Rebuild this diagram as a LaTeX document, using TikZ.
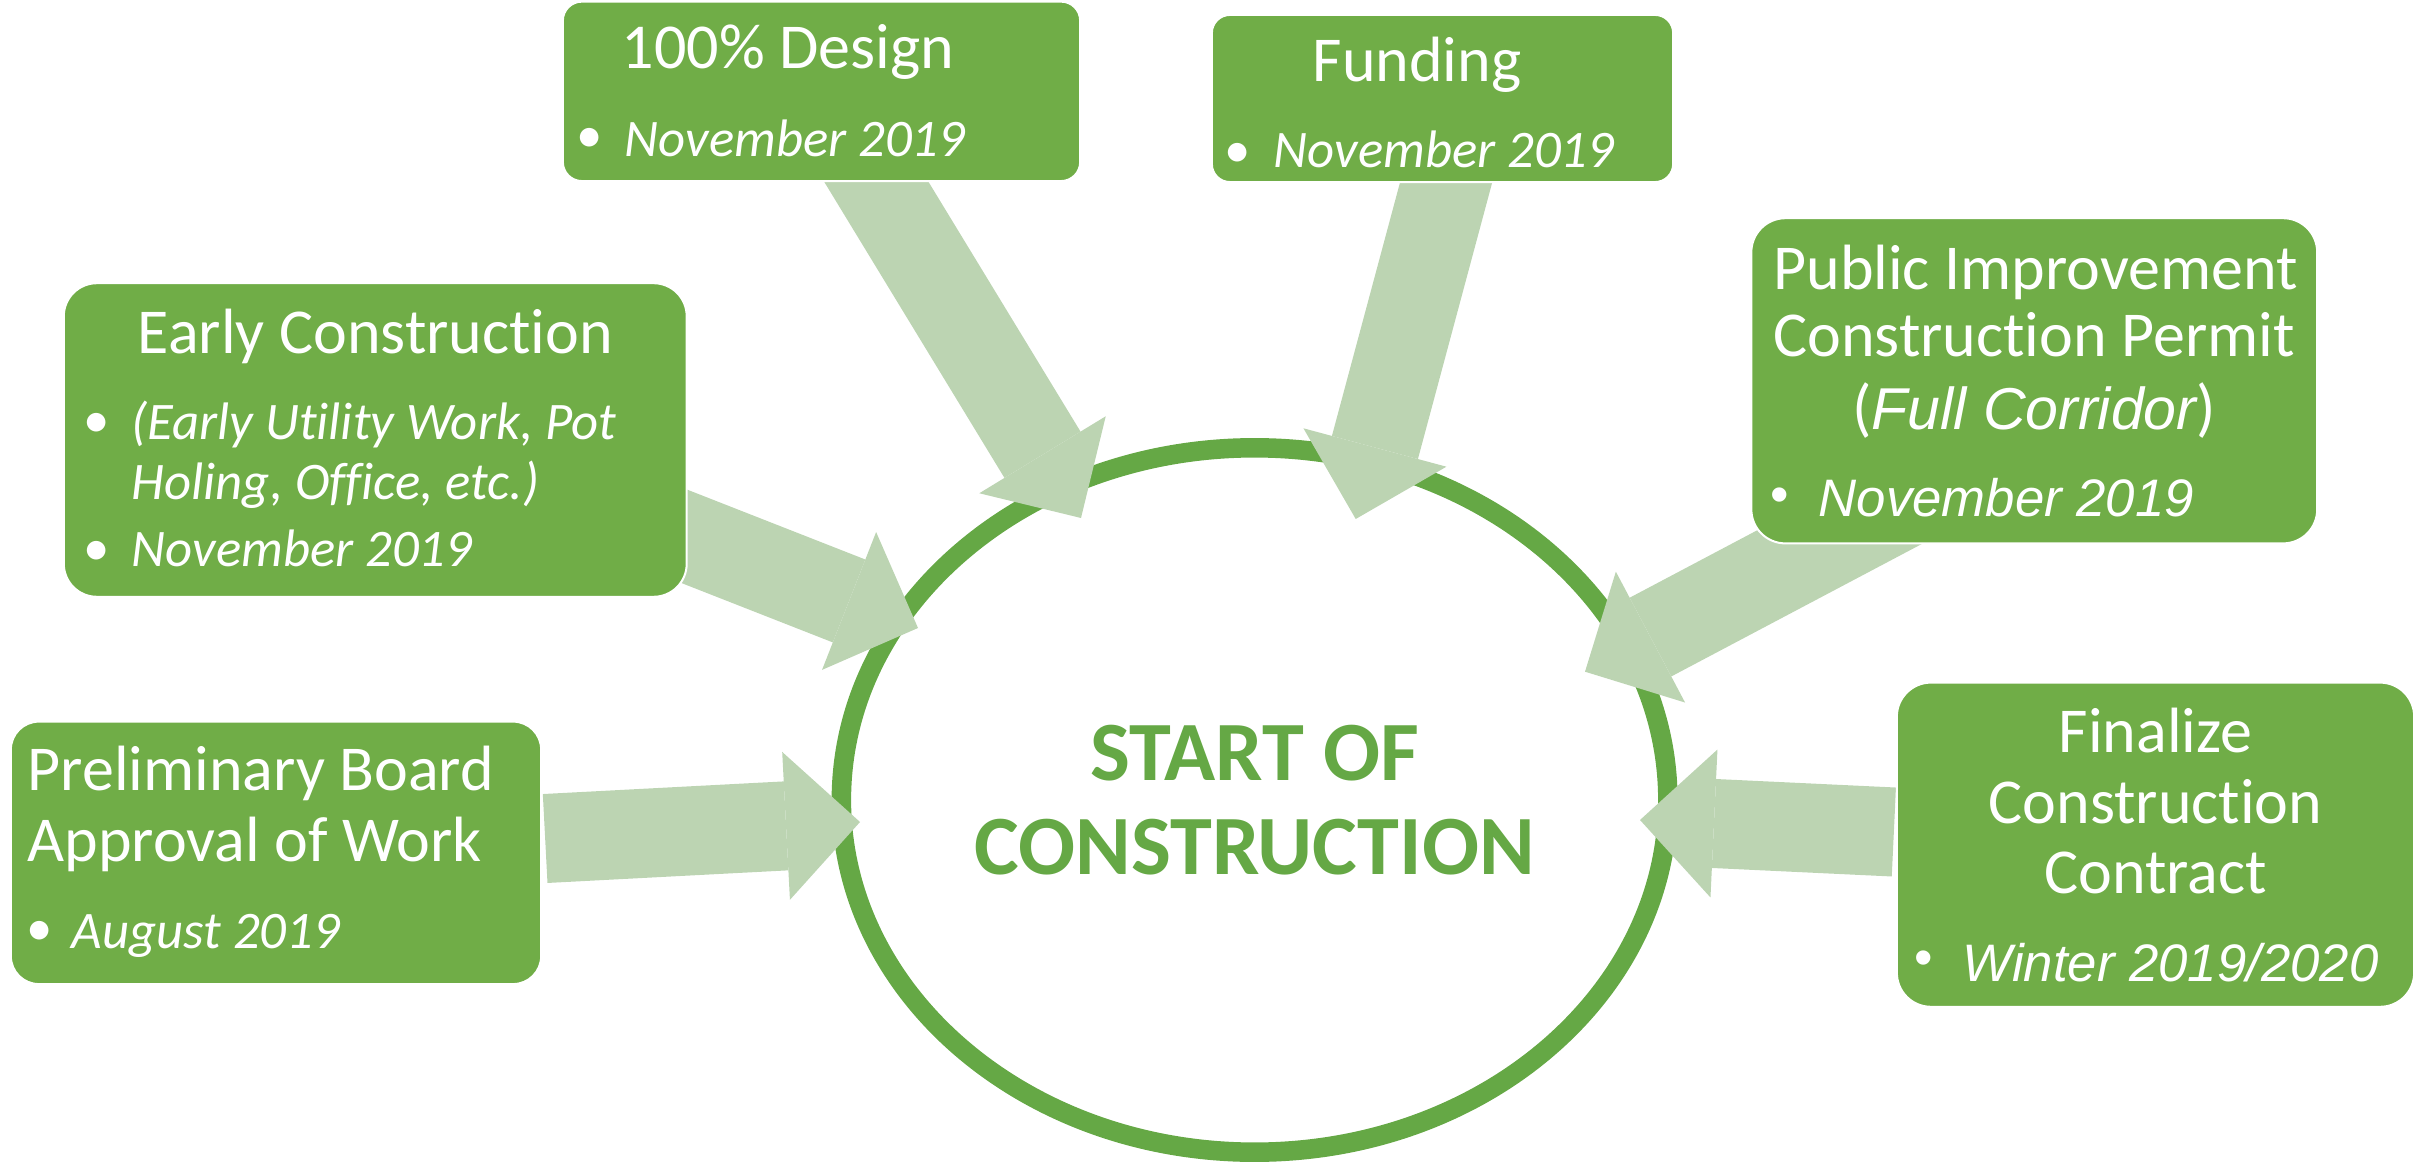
\documentclass[tikz,border=0pt]{standalone}
\usepackage{fontspec}
\setmainfont{Carlito}[Ligatures={NoCommon,NoContextual}]
\newfontfamily\arialfont{Liberation Sans}
\usetikzlibrary{shapes.geometric,arrows.meta,calc}
\definecolor{cardgreen}{RGB}{112,173,71}
\definecolor{ringgreen}{RGB}{101,168,69}
\definecolor{flowgreen}{RGB}{188,212,178}
\pgfdeclarelayer{ringlayer}
\pgfdeclarelayer{flowlayer}
\pgfsetlayers{ringlayer,flowlayer,main}

\begin{document}
\begin{tikzpicture}[x=0.01cm, y=-0.01cm,
    card/.style={rectangle, draw=white, line width=0.02cm, fill=cardgreen, inner sep=0pt},
    cardtitle/.style={text=white, inner sep=0pt, font=\fontsize{18.2}{20}\selectfont},
    carddate/.style={text=white, inner sep=0pt, font=\fontsize{15}{16}\selectfont\itshape},
    carddatea/.style={text=white, inner sep=0pt, font=\arialfont\fontsize{15}{16}\selectfont\itshape},
    cardbullet/.style={text=white, inner sep=0pt, font=\fontsize{15}{16}\selectfont},
    cardbulleta/.style={text=white, inner sep=0pt, font=\arialfont\fontsize{15}{16}\selectfont},
    flow/.style={draw=flowgreen, line width=0.89cm, -{Triangle[length=0.74cm, width=1.48cm, line width=0pt]}}]

    \useasboundingbox (0,0) rectangle (2415,1164);

    \begin{pgfonlayer}{ringlayer}
        \node[ellipse, draw=ringgreen, line width=0.195cm, minimum width=8.26cm, minimum height=7.04cm,
              inner sep=0pt, text=ringgreen, align=center, font=\bfseries\fontsize{24}{26.7}\selectfont]
              (ring) at (1254.6,800) {START OF\\CONSTRUCTION};
    \end{pgfonlayer}

    % boxes
    \node[card, rounded corners=0.28cm, minimum width=5.30cm, minimum height=2.623cm] (b1) at (276,852.85) {};
    \node[card, rounded corners=0.33cm, minimum width=6.225cm, minimum height=3.134cm] (b2) at (375.25,440) {};
    \node[card, rounded corners=0.19cm, minimum width=5.17cm, minimum height=1.793cm] (b3) at (821.5,91.35) {};
    \node[card, rounded corners=0.18cm, minimum width=4.61cm, minimum height=1.67cm] (b4) at (1442.5,98.5) {};
    \node[card, rounded corners=0.34cm, minimum width=5.655cm, minimum height=3.25cm] (b5) at (2034.25,380.8) {};
    \node[card, rounded corners=0.34cm, minimum width=5.17cm, minimum height=3.24cm] (b6) at (2155.5,844.7) {};

    \node[cardtitle, anchor=base west] (b1t1) at (27,790) {Preliminary Board};
    \node[cardtitle, anchor=base west] (b1t2) at (27,861.7) {Approval of Work};
    \node[cardbullet] (b1p) at (40,933) {•};
    \node[carddate, anchor=base west] (b1d) at (71,948.3) {August 2019};

    \node[cardtitle, anchor=base] (b2t) at (375.5,353.3) {Early Construction};
    \node[cardbullet] (b2p1) at (96.7,425) {•};
    \node[carddate, anchor=base west] (b2d1) at (131,440) {(Early Utility Work, Pot};
    \node[carddate, anchor=base west] (b2d2) at (131,500) {Holing, Office, etc.)};
    \node[cardbullet] (b2p2) at (96.7,553.3) {•};
    \node[carddate, anchor=base west] (b2d3) at (131,566.7) {November 2019};

    \node[cardtitle, anchor=base west] (b3t) at (621,68.3) {100\% Design};
    \node[cardbullet] (b3p) at (590,140) {•};
    \node[carddate, anchor=base west] (b3d) at (624,156.7) {November 2019};

    \node[cardtitle, anchor=base west] (b4t) at (1312,82) {Funding};
    \node[cardbullet] (b4p) at (1238,155) {•};
    \node[carddate, anchor=base west] (b4d) at (1273,168) {November 2019};

    \node[cardtitle, anchor=base] (b5t1) at (2035.5,289.3) {Public Improvement};
    \node[cardtitle, anchor=base] (b5t2) at (2034,356.7) {Construction Permit};
    \node[cardtitle, anchor=base] (b5t3) at (2034,430) {({\arialfont\itshape\fontsize{16.8}{18}\selectfont Full Corridor})};
    \node[cardbulleta] (b5p) at (1780,500) {•};
    \node[carddatea, anchor=base west] (b5d) at (1818,516.7) {November 2019};

    \node[cardtitle, anchor=base] (b6t1) at (2155.5,752.7) {Finalize};
    \node[cardtitle, anchor=base] (b6t2) at (2155.5,823.3) {Construction};
    \node[cardtitle, anchor=base] (b6t3) at (2155.5,893.3) {Contract};
    \node[cardbulleta] (b6p) at (1924,963.3) {•};
    \node[carddatea, anchor=base west] (b6d) at (1962,981.7) {Winter 2019/2020};

    % arrow tips on the ring
    \coordinate (e1) at (860,822);
    \coordinate (e2) at (918,628);
    \coordinate (e3) at (1081,518);
    \coordinate (e4) at (1355.7,519);
    \coordinate (e5) at (1585,671.7);
    \coordinate (e6) at (1640,820);

    \begin{pgfonlayer}{flowlayer}
        \draw[flow] ($(b1.east)+(3,-14.35)$) -- (e1);
        \draw[flow] ($(b2.east)+(-19.5,90)$) -- (e2);
        \draw[flow] ($(b3.south)+(31.1,-39.2)$) -- (e3);
        \draw[flow] ($(b4.south)+(11.5,-30)$) -- (e4);
        \draw[flow] ($(b5.south)+(-122.65,-45.4)$) -- (e5);
        \draw[flow] ($(b6.west)+(-2,-12.7)$) -- (e6);
    \end{pgfonlayer}

\end{tikzpicture}
\end{document}
